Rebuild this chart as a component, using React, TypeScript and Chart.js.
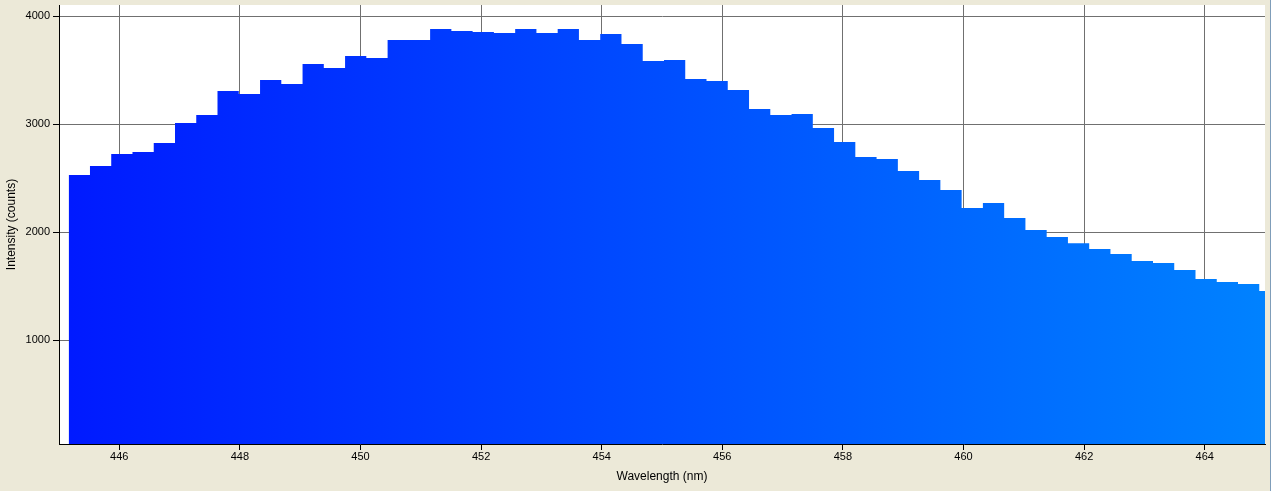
import React, { useEffect, useRef } from "react";
import { Chart, registerables } from "chart.js";

Chart.register(...registerables);

// Bar centre wavelengths (nm)
const wavelengths = [
  445.337, 445.69, 446.042, 446.395, 446.747, 447.1, 447.452, 447.805, 448.158, 448.51,
  448.863, 449.215, 449.568, 449.92, 450.273, 450.626, 450.978, 451.331, 451.683, 452.036,
  452.389, 452.741, 453.094, 453.446, 453.799, 454.152, 454.504, 454.857, 455.209, 455.562,
  455.914, 456.267, 456.62, 456.972, 457.325, 457.677, 458.03, 458.382, 458.735, 459.088,
  459.44, 459.793, 460.145, 460.498, 460.851, 461.203, 461.556, 461.908, 462.261, 462.613,
  462.966, 463.319, 463.671, 464.024, 464.376, 464.729, 465.081,
];

// Intensity (counts)
const intensities = [
  2531, 2614, 2725, 2744, 2827, 3012, 3086, 3308, 3281, 3410,
  3373, 3558, 3521, 3632, 3614, 3781, 3781, 3882, 3864, 3855,
  3845, 3882, 3845, 3882, 3781, 3836, 3744, 3586, 3595, 3419,
  3401, 3318, 3142, 3086, 3095, 2966, 2836, 2697, 2679, 2568,
  2484, 2392, 2225, 2271, 2132, 2021, 1956, 1900, 1845, 1799,
  1734, 1716, 1651, 1568, 1540, 1521, 1457,
];

const xTickValues = [446, 448, 450, 452, 454, 456, 458, 460, 462, 464];
const yTickValues = [1000, 2000, 3000, 4000];
const xMin = 445;
const xMax = 465;
const yMin = 40;
const yMax = 4105;

const FONT = '"Liberation Sans", Arial, sans-serif';

export default function App() {
  const canvasRef = useRef<HTMLCanvasElement>(null);

  useEffect(() => {
    const canvas = canvasRef.current;
    if (!canvas) return;

    // build step outline: each bin becomes two points (left edge, right edge)
    const n = wavelengths.length;
    const edges: number[] = [];
    edges.push(wavelengths[0] - (wavelengths[1] - wavelengths[0]) / 2);
    for (let i = 1; i < n; i++) edges.push((wavelengths[i - 1] + wavelengths[i]) / 2);
    edges.push(wavelengths[n - 1] + (wavelengths[n - 1] - wavelengths[n - 2]) / 2);
    const pts: { x: number; y: number }[] = [];
    for (let i = 0; i < n; i++) {
      pts.push({ x: edges[i], y: intensities[i] });
      pts.push({ x: edges[i + 1], y: intensities[i] });
    }

    const bgPlugin = {
      id: "plotBg",
      beforeDraw(chart: any) {
        const { ctx, chartArea: a } = chart;
        ctx.save();
        ctx.fillStyle = "#ffffff";
        ctx.fillRect(a.left, a.top, a.right - a.left, a.bottom - a.top);
        ctx.fillStyle = "#7F9DB9";
        ctx.fillRect(chart.width - 1, 0, 1, chart.height);
        ctx.restore();
      },
    };

    const chart = new Chart(canvas, {
      type: "line",
      data: {
        datasets: [
          {
            data: pts,
            fill: "origin",
            borderWidth: 0,
            borderColor: "rgba(0,0,0,0)",
            pointRadius: 0,
            tension: 0,
            backgroundColor: (ctx: any) => {
              const c = ctx.chart;
              if (!c.chartArea || !c.scales.x) return "rgb(0,60,255)";
              const x0 = c.scales.x.getPixelForValue(xMin);
              const x1 = c.scales.x.getPixelForValue(xMax);
              const g = c.ctx.createLinearGradient(x0, 0, x1, 0);
              g.addColorStop(0, "rgb(0,25,255)");
              g.addColorStop(1, "rgb(0,130,255)");
              return g;
            },
          },
        ],
      },
      options: {
        animation: false,
        responsive: true,
        maintainAspectRatio: false,
        layout: { padding: { top: 5, right: 6, left: 0, bottom: 0 } },
        plugins: { legend: { display: false }, tooltip: { enabled: false } },
        scales: {
          x: {
            type: "linear",
            min: xMin,
            max: xMax,
            afterBuildTicks: (s: any) => {
              s.ticks = xTickValues.map((v) => ({ value: v }));
            },
            afterFit: (s: any) => {
              s.height = 47;
              s.paddingLeft = 0;
              s.paddingRight = 0;
            },
            grid: { color: "#707070", tickColor: "#000000", tickLength: 6, lineWidth: 1 },
            border: { color: "#000000", width: 1, z: 1 },
            ticks: {
              color: "#000000",
              font: { family: FONT, size: 11 },
              padding: 0,
              maxRotation: 0,
              autoSkip: false,
              callback: (v: any) => String(v),
            },
            title: {
              display: true,
              text: "Wavelength (nm)",
              color: "#000000",
              font: { family: FONT, size: 12 },
              padding: { top: 0, bottom: 7 },
            },
          },
          y: {
            type: "linear",
            min: yMin,
            max: yMax,
            afterBuildTicks: (s: any) => {
              s.ticks = yTickValues.map((v) => ({ value: v }));
            },
            afterFit: (s: any) => {
              s.width = 59;
              s.paddingTop = 0;
              s.paddingBottom = 0;
            },
            grid: { color: "#707070", tickColor: "#000000", tickLength: 6, lineWidth: 1 },
            border: { color: "#000000", width: 1, z: 1 },
            ticks: {
              color: "#000000",
              font: { family: FONT, size: 11 },
              padding: 3,
              autoSkip: false,
              callback: (v: any) => String(v),
            },
            title: {
              display: true,
              text: "Intensity (counts)",
              color: "#000000",
              font: { family: FONT, size: 12 },
              padding: { top: 4, bottom: 0 },
            },
          },
        },
      },
      plugins: [bgPlugin],
    } as any);

    return () => chart.destroy();
  }, []);

  return (
    <div
      style={{
        position: "absolute",
        left: 0,
        top: 0,
        width: 1271,
        height: 491,
        background: "#ECE9D8",
      }}
    >
      <canvas ref={canvasRef} />
    </div>
  );
}
